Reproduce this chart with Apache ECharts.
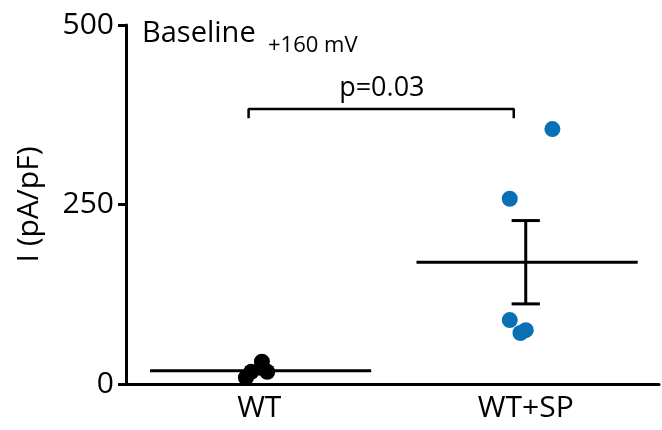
<!DOCTYPE html>
<html>
<head>
<meta charset="utf-8">
<script src="https://cdn.jsdelivr.net/npm/echarts@6/dist/echarts.min.js"></script>
<style>
  html, body { margin: 0; padding: 0; background: #fff; }
  #chart { width: 662px; height: 430px; }
</style>
</head>
<body>
<div id="chart"></div>
<script>
// groups and their x position
const groups = ['WT', 'WT+SP'];
const groupPos = [1, 2];
// individual cells (x jitter, current density)
const wtX = [0.95, 0.97, 1.01, 1.03];
const wtY = [9, 17, 31, 17];
const spX = [2.10, 1.94, 1.94, 1.98, 2.00];
const spY = [355, 258, 89, 71, 75];
const yTicks = [0, 250, 500];
const pText = 'p=0.03';

function meanSem(arr) {
  const m = arr.reduce((a, b) => a + b, 0) / arr.length;
  const sd = Math.sqrt(arr.reduce((a, b) => a + (b - m) * (b - m), 0) / (arr.length - 1));
  return [m, sd / Math.sqrt(arr.length)];
}

const stats = [wtY, spY].map((ys, i) => {
  const ms = meanSem(ys);
  return [groupPos[i], ms[0], ms[1]];
});

const font = '"Open Sans", sans-serif';
const chart = echarts.init(document.getElementById('chart'));

chart.setOption({
  animation: false,
  grid: { left: 126, top: 25, width: 534, height: 359 },
  graphic: [
    {
      type: 'text', left: 142, top: 19,
      style: { text: 'Baseline', fontSize: 29, fontFamily: font, fill: '#000' }
    },
    {
      type: 'text', left: 268, top: 35,
      style: { text: '+160 mV', fontSize: 22, fontFamily: font, fill: '#000' }
    }
  ],
  xAxis: {
    type: 'value',
    min: 0.5,
    max: 2.5,
    interval: 0.5,
    splitLine: { show: false },
    axisTick: { show: false },
    axisLine: { lineStyle: { color: '#000', width: 3 } },
    axisLabel: {
      color: '#000', fontSize: 30, fontFamily: font, margin: 9,
      showMinLabel: true, showMaxLabel: true,
      formatter: v => {
        const i = groupPos.indexOf(v);
        return i >= 0 ? groups[i] : '';
      }
    }
  },
  yAxis: {
    type: 'value',
    min: 0,
    max: 500,
    interval: 250,
    name: 'I (pA/pF)',
    nameLocation: 'middle',
    nameGap: 82,
    nameTextStyle: { color: '#000', fontSize: 30, fontFamily: font },
    splitLine: { show: false },
    axisLine: { show: true, lineStyle: { color: '#000', width: 3 } },
    axisTick: { show: true, length: 8, lineStyle: { color: '#000', width: 3 } },
    axisLabel: { color: '#000', fontSize: 30, fontFamily: font, margin: 12 }
  },
  series: [
    {
      type: 'scatter',
      symbolSize: 16,
      itemStyle: { color: '#000', opacity: 1 },
      data: wtX.map((x, i) => [x, wtY[i]]),
      z: 3
    },
    {
      type: 'scatter',
      symbolSize: 16,
      itemStyle: { color: '#0a70b6', opacity: 1 },
      data: spX.map((x, i) => [x, spY[i]]),
      z: 3
    },
    {
      type: 'custom',
      data: stats,
      z: 4,
      renderItem: (params, api) => {
        const x = api.value(0), m = api.value(1), s = api.value(2);
        const line = (a, b) => ({
          type: 'line',
          shape: { x1: a[0], y1: a[1], x2: b[0], y2: b[1] },
          style: { stroke: '#000', lineWidth: 3 }
        });
        return {
          type: 'group',
          children: [
            line(api.coord([x - 0.41, m]), api.coord([x + 0.42, m])),
            line(api.coord([x, m - s]), api.coord([x, m + s])),
            line(api.coord([x - 0.053, m + s]), api.coord([x + 0.053, m + s])),
            line(api.coord([x - 0.053, m - s]), api.coord([x + 0.053, m - s]))
          ]
        };
      }
    },
    {
      type: 'line',
      symbol: 'none',
      lineStyle: { color: '#000', width: 2.5 },
      data: [[0.96, 370], [0.96, 383], [1.955, 383], [1.955, 370]],
      z: 2
    },
    {
      type: 'scatter',
      symbolSize: 1,
      itemStyle: { color: 'rgba(0,0,0,0)', opacity: 1 },
      data: [[1.46, 412]],
      label: {
        show: true, position: 'inside', formatter: pText,
        color: '#000', fontSize: 27, fontFamily: font
      }
    }
  ]
});
</script>
</body>
</html>
